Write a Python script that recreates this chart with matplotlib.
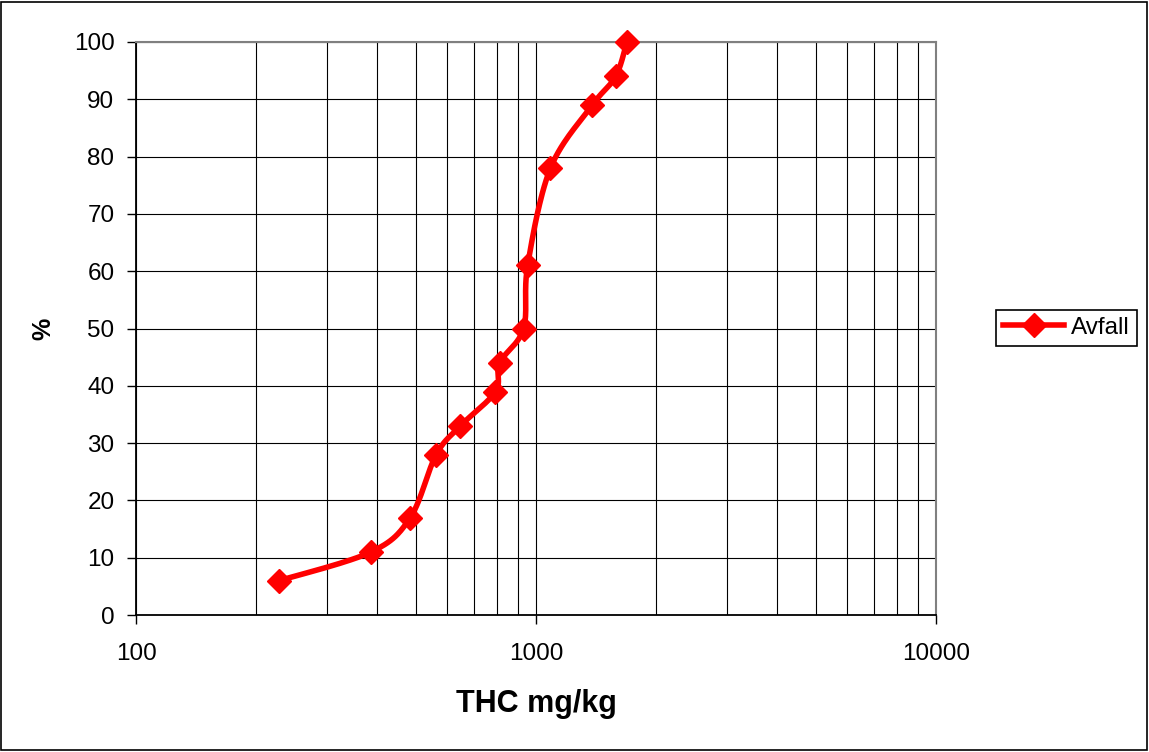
import matplotlib
matplotlib.use('Agg')
import matplotlib.pyplot as plt
import matplotlib.patches as patches
import numpy as np
from matplotlib.ticker import FixedLocator, NullFormatter, FixedFormatter

plt.rcParams['font.family'] = ['Liberation Sans', 'DejaVu Sans']

# data
thc = [228, 387, 485, 563, 647, 792, 811, 931, 953, 1087, 1383, 1582, 1687]
procent = [6, 11, 17, 28, 33, 39, 44, 50, 61, 78, 89, 94, 100]
serie = 'Avfall'


def smooth(x, y, n=30):
    # catmull-rom in (log x, y), roughly what excel does for smoothed lines
    lx = np.log10(np.array(x, dtype=float))
    y = np.array(y, dtype=float)
    P = np.column_stack([lx, y])
    P = np.vstack([P[0], P, P[-1]])
    out = []
    for i in range(1, len(P) - 2):
        p0, p1, p2, p3 = P[i - 1], P[i], P[i + 1], P[i + 2]
        t = np.linspace(0, 1, n)[:, None]
        c = 0.5 * ((2 * p1) + (-p0 + p2) * t + (2 * p0 - 5 * p1 + 4 * p2 - p3) * t**2
                   + (-p0 + 3 * p1 - 3 * p2 + p3) * t**3)
        out.append(c if i == 1 else c[1:])
    out = np.vstack(out)
    return 10**out[:, 0], out[:, 1]


fig = plt.figure(figsize=(11.49, 7.52), dpi=100)
ax = fig.add_axes([136/1149, 1 - 615/752, 800/1149, 573/752])

ax.set_xscale('log')
ax.set_xlim(100, 10000)
ax.set_ylim(0, 100)

sx, sy = smooth(thc, procent)
ax.plot(sx, sy, color='#ff0000', lw=4, solid_capstyle='round', zorder=3, clip_on=False)
ax.plot(thc, procent, 'D', color='#ff0000', ms=12, zorder=4, clip_on=False)
# proxy for legend
ax.plot([], [], color='#ff0000', lw=4, marker='D', ms=12, label=serie)

ax.xaxis.set_major_locator(FixedLocator([100, 1000, 10000]))
ax.xaxis.set_major_formatter(FixedFormatter(['100', '1000', '10000']))
minors = [m * d for d in (100, 1000) for m in range(2, 10)]
ax.xaxis.set_minor_locator(FixedLocator(minors))
ax.xaxis.set_minor_formatter(NullFormatter())
ax.set_yticks(range(0, 101, 10))

ax.grid(True, which='both', axis='x', color='black', lw=0.8)
ax.grid(True, which='major', axis='y', color='black', lw=0.8)
ax.set_axisbelow(True)

ax.tick_params(axis='x', which='minor', length=0)
ax.tick_params(axis='both', which='major', direction='out', length=6.5, width=1,
               labelsize=17.5, color='black')
ax.tick_params(axis='y', pad=9)
ax.tick_params(axis='x', pad=14)

for s in ('left', 'bottom'):
    ax.spines[s].set_color('black')
    ax.spines[s].set_linewidth(1.3)
for s in ('top', 'right'):
    ax.spines[s].set_color('#808080')
    ax.spines[s].set_linewidth(1.5)

ax.set_xlabel('THC mg/kg', fontsize=22, fontweight='bold', labelpad=17)
ax.set_ylabel('%', fontsize=18, fontweight='bold', labelpad=13)

leg = ax.legend(loc='center left', bbox_to_anchor=(996/1149, 1 - 328/752),
                bbox_transform=fig.transFigure, fontsize=17.5, frameon=True,
                fancybox=False, framealpha=1, edgecolor='black',
                handlelength=2.5, borderpad=0.3, handletextpad=0.3,
                borderaxespad=0)
leg.get_frame().set_linewidth(1.2)

fig.patches.append(patches.Rectangle((0.001, 0.003), 0.997, 0.995, transform=fig.transFigure,
                                     fill=False, edgecolor='black', lw=1.2))

fig.savefig('out.png', dpi=100)
